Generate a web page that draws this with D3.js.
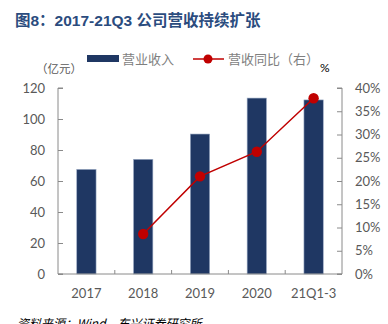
<!DOCTYPE html>
<html><head><meta charset="utf-8">
<script src="https://cdn.jsdelivr.net/npm/d3@7"></script>
<style>
html,body{margin:0;padding:0;background:#fff;overflow:hidden;}
svg{display:block;font-family:Lato,"Noto Sans CJK SC",sans-serif;}
</style></head><body>
<svg id="c" width="388" height="324"></svg>
<script>
const categories = ["2017","2018","2019","2020","21Q1-3"];
const revenue = [67.5, 74, 90.3, 113.5, 112.3];
const growth = [null, 8.6, 21.0, 26.3, 37.8];
const leftTicks = [0,20,40,60,80,100,120];
const rightTicks = [0,5,10,15,20,25,30,35,40];

const svg = d3.select("#c");
const m = {l:58, r:342, t:88, b:274};
const x = d3.scaleBand().domain(categories).range([m.l, m.r]).paddingInner(0.66).paddingOuter(0.33);
const yL = d3.scaleLinear().domain([0,120]).range([m.b, m.t]);
const yR = d3.scaleLinear().domain([0,40]).range([m.b, m.t]);

// title
svg.append("text").attr("x",15).attr("y",26).attr("fill","#2B4C7E")
  .attr("font-size",15.5).attr("font-weight","bold")
  .attr("font-family","'Liberation Sans','Noto Sans CJK SC',sans-serif")
  .text("图8：2017-21Q3 公司营收持续扩张");

const axisColor = "#8a8a8a", labelColor = "#595959";

// bars
svg.append("g").selectAll("rect").data(categories).join("rect")
  .attr("x", d=>x(d)).attr("width", x.bandwidth())
  .attr("y", (d,i)=>yL(revenue[i])).attr("height",(d,i)=>yL(0)-yL(revenue[i]))
  .attr("fill","#1F3763").attr("stroke","#9aaac4").attr("stroke-width",0.6);

// left axis
const gl = svg.append("g").attr("transform",`translate(${m.l},0)`)
  .call(d3.axisRight(yL).tickValues(leftTicks).tickSize(5).tickFormat(""));
gl.selectAll("path,line").attr("stroke",axisColor);
gl.select(".domain").attr("d",`M5,${m.t}H0V${m.b}H5`);
svg.append("g").selectAll("text").data(leftTicks).join("text")
  .attr("x",45).attr("y",d=>yL(d)).attr("dy","0.35em").attr("text-anchor","end")
  .attr("font-size",13).attr("fill",labelColor).text(d=>d);

// right axis
const gr = svg.append("g").attr("transform",`translate(${m.r},0)`)
  .call(d3.axisLeft(yR).tickValues(rightTicks).tickSize(5).tickFormat(""));
gr.selectAll("path,line").attr("stroke",axisColor);
gr.select(".domain").attr("d",`M-5,${m.t}H0V${m.b}H-5`);
svg.append("g").selectAll("text").data(rightTicks).join("text")
  .attr("x",355).attr("y",d=>yR(d)).attr("dy","0.35em").attr("text-anchor","start")
  .attr("font-size",13).attr("fill",labelColor).text(d=>d+"%");

// x axis
const step = x.step();
const bounds = d3.range(1, categories.length).map(i=>m.l + i*(m.r-m.l)/categories.length);
svg.append("line").attr("x1",m.l).attr("x2",m.r).attr("y1",m.b).attr("y2",m.b).attr("stroke",axisColor);
svg.append("g").selectAll("line").data(bounds).join("line")
  .attr("x1",d=>d).attr("x2",d=>d).attr("y1",m.b).attr("y2",m.b-4).attr("stroke",axisColor);
svg.append("g").selectAll("text").data(categories).join("text")
  .attr("x",d=>x(d)+x.bandwidth()/2).attr("y",298).attr("text-anchor","middle")
  .attr("font-size",13).attr("fill",labelColor).text(d=>d);

// line
const pts = categories.map((c,i)=>({c, v:growth[i]})).filter(d=>d.v!=null);
svg.append("path").datum(pts)
  .attr("d", d3.line().x(d=>x(d.c)+x.bandwidth()/2).y(d=>yR(d.v)))
  .attr("fill","none").attr("stroke","#C00000").attr("stroke-width",1.5);
svg.append("g").selectAll("circle").data(pts).join("circle")
  .attr("cx",d=>x(d.c)+x.bandwidth()/2).attr("cy",d=>yR(d.v)).attr("r",5.2).attr("fill","#C00000");

// legend
svg.append("rect").attr("x",87).attr("y",55).attr("width",32).attr("height",7).attr("fill","#1F3763");
svg.append("text").attr("x",122).attr("y",64).attr("font-size",13).attr("fill","#7f7f7f")
  .attr("font-family","'Noto Sans CJK SC',sans-serif").text("营业收入");
svg.append("line").attr("x1",193).attr("x2",224).attr("y1",59).attr("y2",59).attr("stroke","#C00000").attr("stroke-width",1.5);
svg.append("circle").attr("cx",208).attr("cy",59).attr("r",4.5).attr("fill","#C00000");
svg.append("text").attr("x",228).attr("y",64).attr("font-size",13).attr("fill","#7f7f7f")
  .attr("font-family","'Noto Sans CJK SC',sans-serif").text("营收同比（右）");

// unit labels
svg.append("text").attr("x",36).attr("y",73).attr("font-size",11.5).attr("fill","#595959")
  .attr("font-family","'Noto Sans CJK SC',sans-serif").text("（亿元）");
svg.append("text").attr("x",320).attr("y",72).attr("font-size",12).attr("fill","#000").text("%");

// source
svg.append("text").attr("x",17).attr("y",328).attr("font-size",12).attr("fill","#000")
  .attr("font-style","italic").attr("font-family","'Noto Sans CJK SC',sans-serif")
  .text("资料来源：Wind，东兴证券研究所");
</script>
</body></html>
